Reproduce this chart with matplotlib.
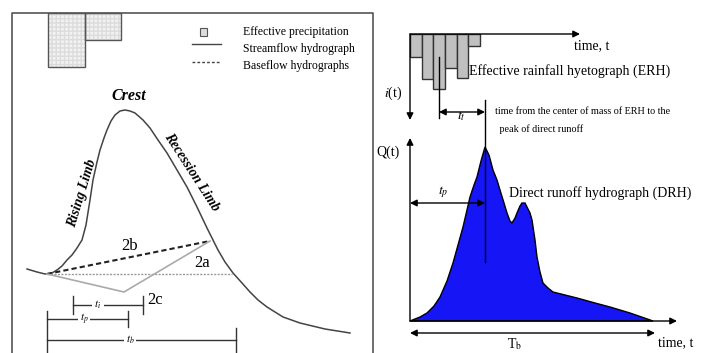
import matplotlib.pyplot as plt
from matplotlib.patches import Rectangle, Polygon

plt.rcParams['font.family'] = ['Liberation Serif', 'DejaVu Serif']
plt.rcParams['mathtext.fontset'] = 'stix'

# left diagram: effective precipitation blocks (x edges, depth below the top line)
prec_edges = [48, 85, 121]
prec_depth = [54, 27]

# streamflow hydrograph (left)
sf_x = [27, 37, 45, 52, 57, 62, 67, 72, 77, 82, 86, 90, 93, 97, 100, 104, 107, 111, 115, 120, 125,
        130, 135, 143, 150, 158, 167, 177, 187, 197, 207, 213, 218, 225, 233, 242, 250, 258, 267,
        283, 300, 325, 350]
sf_y = [269, 272, 274, 273, 270, 266, 260, 255, 248, 240, 225, 200, 180, 162, 150, 138, 130, 121, 115,
        111, 110, 111, 113, 120, 128, 140, 153, 170, 187, 207, 228, 240, 250, 262, 273, 283, 292, 300,
        307, 317, 323, 329, 333]

# baseflow separation points
b_start = (47, 274)
b_end = (210, 241)
b_2a_end = (232, 274)
b_2c_low = (124, 292)

# right diagram: effective rainfall hyetograph (bar edges, bottom of each bar)
erh_edges = [410, 422, 433, 445, 457, 468, 480]
erh_bottom = [57, 79, 89, 68, 78, 46]
erh_top = 34

# direct runoff hydrograph
drh_x = [410, 420, 427, 434, 440, 447, 453, 458, 463, 467, 470, 474, 477, 481, 485, 489, 493, 497,
         500, 504, 507, 510, 512, 515, 517, 520, 522, 525, 527, 530, 532, 535, 537, 540, 543, 548,
         553, 565, 577, 595, 610, 630, 653]
drh_y = [321, 317, 313, 306, 297, 281, 263, 245, 227, 210, 197, 185, 177, 161, 147, 155, 170, 180,
         190, 203, 213, 221, 223, 218, 213, 206, 203, 203, 207, 213, 220, 240, 257, 272, 283, 288,
         292, 295, 298, 303, 307, 313, 321]

fig = plt.figure(figsize=(7.09, 3.53), dpi=100)
ax = fig.add_axes([0, 0, 1, 1])
ax.set_xlim(0, 709)
ax.set_ylim(353, 0)
ax.axis('off')

# panel frame
ax.plot([12, 12, 373, 373], [353, 13, 13, 353], color='#555555', lw=1.2)

for i in range(len(prec_depth)):
    # light grid texture, then the outline
    ax.add_patch(Rectangle((prec_edges[i], 13), prec_edges[i + 1] - prec_edges[i], prec_depth[i],
                           facecolor='#f2f2f2', edgecolor='#dcdcdc', lw=0, hatch='++++', zorder=2))
    ax.add_patch(Rectangle((prec_edges[i], 13), prec_edges[i + 1] - prec_edges[i], prec_depth[i],
                           fill=False, edgecolor='#555555', lw=1, zorder=3))

# legend
ax.add_patch(Rectangle((200, 28), 7, 8, facecolor='#dddddd', edgecolor='#555555', lw=0.8))
ax.plot([192, 221], [44, 44], color='#444444', lw=1)
ax.plot([192, 221], [62, 62], color='#444444', lw=1, ls=(0, (2, 1.5)))
ax.text(243, 32, 'Effective precipitation', fontsize=8.5, va='center')
ax.text(243, 49, 'Streamflow hydrograph', fontsize=8.5, va='center')
ax.text(243, 66, 'Baseflow hydrographs', fontsize=8.5, va='center')

# streamflow hydrograph
ax.plot(sf_x, sf_y, color='#444444', lw=1.1)
ax.text(129, 96, 'Crest', fontsize=11.5, style='italic', weight='bold', ha='center', va='center')
ax.text(82, 193, 'Rising Limb', fontsize=10, style='italic', weight='bold', ha='center', va='center',
        rotation=73)
ax.text(192, 172, 'Recession Limb', fontsize=10, style='italic', weight='bold', ha='center', va='center',
        rotation=-57)

# baseflow lines
ax.plot([b_start[0], b_end[0]], [b_start[1], b_end[1]], color='#222222', lw=1.5, ls=(0, (2.5, 1.5)))
ax.plot([b_start[0], b_2a_end[0]], [b_start[1], b_2a_end[1]], color='#999999', lw=1, ls=(0, (1.5, 1)))
ax.plot([b_start[0], b_2c_low[0], b_end[0]], [b_start[1], b_2c_low[1], b_end[1]], color='#aaaaaa', lw=1.2)
ax.text(130, 246, '2b', fontsize=12, ha='center', va='center')
ax.text(202, 263, '2a', fontsize=12, ha='center', va='center')
ax.text(155, 300, '2c', fontsize=12, ha='center', va='center')

# time dimensions (left)
for x0, x1, y, lab, lx, th in [(73, 143, 305, r'$t_i$', 98, 9), (47, 128, 319, r'$t_p$', 84, 8),
                               (47, 236, 340, r'$t_b$', 130, 12)]:
    ax.plot([x0, x1], [y, y], color='#333333', lw=1)
    ax.plot([x0, x0], [y - th, y + th], color='#333333', lw=1)
    ax.plot([x1, x1], [y - th, y + th], color='#333333', lw=1)
    ax.text(lx, y, lab, fontsize=8, ha='center', va='center',
            bbox=dict(facecolor='white', edgecolor='none', pad=1.5))

# right diagram: hyetograph
for i in range(len(erh_bottom)):
    ax.add_patch(Rectangle((erh_edges[i], erh_top), erh_edges[i + 1] - erh_edges[i], erh_bottom[i] - erh_top,
                           facecolor='#c0c0c0', edgecolor='#333333', lw=1, zorder=2))
arr = dict(arrowstyle='-|>', color='black', lw=1, mutation_scale=10, shrinkA=0, shrinkB=0)
dbl = dict(arrowstyle='<|-|>', color='black', lw=1, mutation_scale=10, shrinkA=0, shrinkB=0)
ax.annotate('', xy=(580, erh_top), xytext=(410, erh_top), arrowprops=arr, zorder=3)
ax.annotate('', xy=(410, 120), xytext=(410, erh_top), arrowprops=arr, zorder=3)
ax.text(574, 46, 'time, t', fontsize=10, va='center')
ax.text(469, 71, 'Effective rainfall hyetograph (ERH)', fontsize=10, va='center')
ax.text(402, 93, r'$i$(t)', fontsize=10, ha='right', va='center')

# center of mass and lag
ax.plot([439, 439], [57, 118], color='black', lw=1, zorder=3)
ax.plot([485, 485], [100, 262], color='black', lw=1, zorder=4)
ax.annotate('', xy=(485, 112), xytext=(439, 112), arrowprops=dbl)
ax.text(461, 116, r'$t_t$', fontsize=10, ha='center', va='center')
ax.text(495, 112, 'time from the center of mass of ERH to the', fontsize=7.3, va='center')
ax.text(497, 129, ' peak of direct runoff', fontsize=7.3, va='center')

# direct runoff hydrograph
ax.add_patch(Polygon(list(zip(drh_x, drh_y)), closed=True, facecolor='#1515f5', edgecolor='black', lw=1,
                     zorder=3))
ax.annotate('', xy=(410, 138), xytext=(410, 321), arrowprops=arr)
ax.annotate('', xy=(677, 321), xytext=(410, 321), arrowprops=arr)
ax.text(400, 152, 'Q(t)', fontsize=10, ha='right', va='center')
ax.annotate('', xy=(485, 203), xytext=(410, 203), arrowprops=dbl, zorder=5)
ax.text(443, 192, r'$t_p$', fontsize=10, ha='center', va='center')
ax.text(509, 193, 'Direct runoff hydrograph (DRH)', fontsize=10, va='center')
ax.annotate('', xy=(655, 333), xytext=(410, 333), arrowprops=dbl)
ax.text(515, 344, r'T$_\mathrm{b}$', fontsize=10, ha='center', va='center')
ax.text(658, 343, 'time, t', fontsize=10, va='center')

fig.savefig('out.png', dpi=100)
